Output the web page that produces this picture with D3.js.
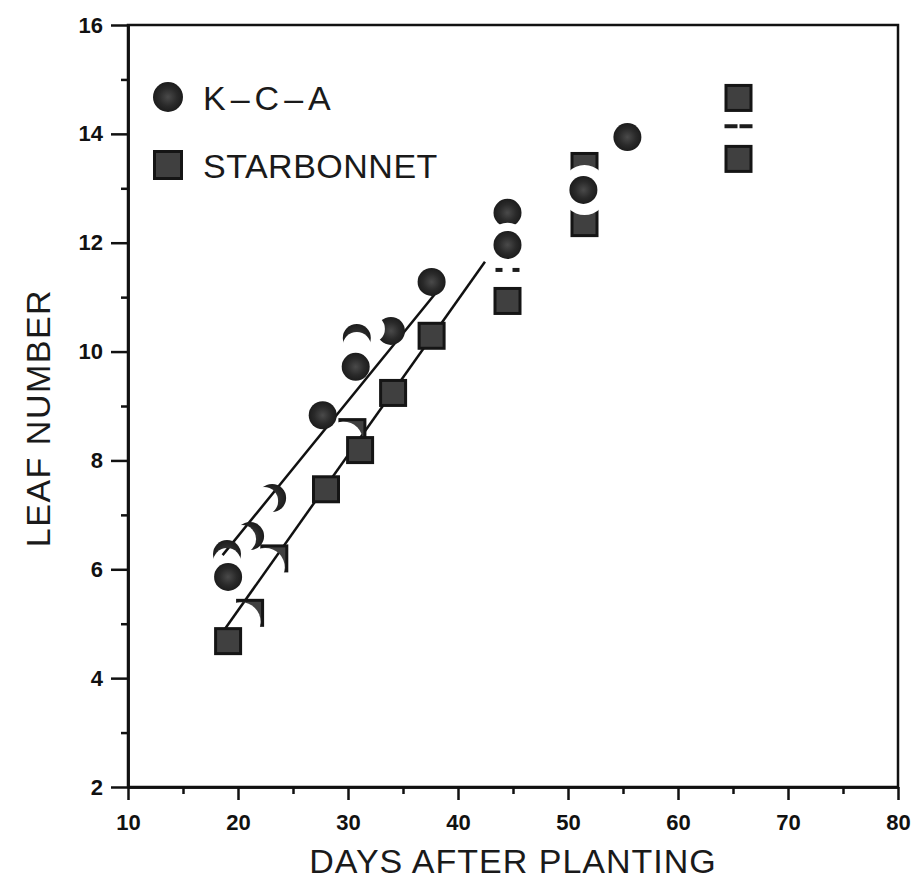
<!DOCTYPE html>
<html>
<head>
<meta charset="utf-8">
<script src="https://cdn.jsdelivr.net/npm/d3@7/dist/d3.min.js"></script>
<style>
  body { margin: 0; background: #fff; }
  svg { display: block; }
  .tick text { font-family: "Liberation Sans", Arial, sans-serif; font-weight: bold; font-size: 22px; fill: #111; }
  .title { font-family: "Liberation Sans", Arial, sans-serif; font-size: 34px; fill: #1a1a1a; }
</style>
</head>
<body>
<div id="chart"></div>
<script>
// K-C-A (circles)
var kcaDays   = [19.1, 19.0, 21.1, 23.1, 27.7, 30.7, 30.8, 33.9, 37.6, 44.5, 44.5, 51.4, 55.4];
var kcaLeaves = [5.86, 6.28, 6.61, 7.31, 8.83, 9.72, 10.25, 10.38, 11.28, 12.55, 11.96, 12.97, 13.94];
var kcaShapes = ["full", "cap", "crescent", "crescent", "full", "full", "cap", "notch", "full", "dome", "full", "full", "full"];

// STARBONNET (squares)
var sbDays   = [19.1, 21.1, 23.3, 28.0, 30.4, 31.1, 34.1, 37.6, 44.5, 44.5, 51.5, 51.5, 65.5, 65.5, 65.5];
var sbLeaves = [4.68, 5.2, 6.2, 7.47, 8.52, 8.19, 9.24, 10.29, 11.5, 10.93, 13.41, 12.36, 14.66, 14.14, 13.54];
var sbShapes = ["full", "rim", "rim", "full", "rim", "full", "full", "full", "split", "full", "top", "bottom", "full", "dash", "full"];

// fitted lines (end points)
var kcaFit = [[18.6, 6.26], [38.0, 11.08]];
var sbFit  = [[18.55, 4.83], [42.45, 11.65]];

var xTicks = [10, 20, 30, 40, 50, 60, 70, 80];
var xMinor = [15, 25, 35, 45, 55, 65, 75];
var yTicks = [2, 4, 6, 8, 10, 12, 14, 16];
var yMinor = [3, 5, 7, 9, 11, 13, 15];

var width = 921, height = 880;

var svg = d3.select("#chart").append("svg")
  .attr("width", width)
  .attr("height", height);

var x = d3.scaleLinear().domain([10, 80]).range([128, 898]);
var y = d3.scaleLinear().domain([2, 16]).range([787, 25]);

var R = 14, S = 28;

// cut-outs that give the worn print its partial marks
var cuts = {
  cap:      {cx: 0,   cy: 8,   r: 14},
  crescent: {cx: -8,  cy: 3,   r: 14},
  notch:    {cx: -20, cy: -2,  r: 14},
  dome:     {cx: 0,   cy: 31,  r: 21},
  rim:      {cx: -9,  cy: 9,   r: 19.5},
  top:      {cx: 0,   cy: 21,  r: 22},
  bottom:   {cx: 0,   cy: -30, r: 22}
};

var defs = svg.append("defs");
Object.keys(cuts).forEach(function(k) {
  var c = cuts[k];
  var m = defs.append("mask").attr("id", "cut-" + k)
    .attr("maskUnits", "userSpaceOnUse")
    .attr("x", -40).attr("y", -40).attr("width", 80).attr("height", 80);
  m.append("rect").attr("x", -40).attr("y", -40).attr("width", 80).attr("height", 80).attr("fill", "#fff");
  m.append("circle").attr("cx", c.cx).attr("cy", c.cy).attr("r", c.r).attr("fill", "#000");
});

var grad = defs.append("radialGradient").attr("id", "dot");
grad.append("stop").attr("offset", "0%").attr("stop-color", "#4a4a4a");
grad.append("stop").attr("offset", "60%").attr("stop-color", "#2a2a2a");
grad.append("stop").attr("offset", "100%").attr("stop-color", "#1c1c1c");

function drawMark(g, kind, shape, size) {
  if (shape == "dash") {
    g.append("rect").attr("x", -14).attr("y", -2).attr("width", 13).attr("height", 4).attr("fill", "#1c1c1c");
    g.append("rect").attr("x", 1).attr("y", -2).attr("width", 13).attr("height", 4).attr("fill", "#1c1c1c");
    return;
  }
  if (shape == "split") {
    g.append("rect").attr("x", -12).attr("y", -2).attr("width", 7).attr("height", 4).attr("fill", "#1c1c1c");
    g.append("rect").attr("x", 5).attr("y", -2).attr("width", 7).attr("height", 4).attr("fill", "#1c1c1c");
    return;
  }
  var el;
  if (kind == "circle") {
    el = g.append("circle").attr("r", size || R).attr("fill", "url(#dot)");
  } else {
    var s = size || S;
    el = g.append("rect")
      .attr("x", -s / 2 + 1.5).attr("y", -s / 2 + 1.5)
      .attr("width", s - 3).attr("height", s - 3)
      .attr("fill", "#404040")
      .attr("stroke", "#151515")
      .attr("stroke-width", 3);
  }
  if (shape != "full") el.attr("mask", "url(#cut-" + shape + ")");
}

// frame
svg.append("rect")
  .attr("x", x(10)).attr("y", y(16))
  .attr("width", x(80) - x(10)).attr("height", y(2) - y(16))
  .attr("fill", "none").attr("stroke", "#111").attr("stroke-width", 2.5);

// axes
svg.append("g")
  .attr("transform", "translate(0," + y(2) + ")")
  .call(d3.axisBottom(x).tickValues(xTicks).tickSize(13).tickSizeOuter(0).tickPadding(14));
svg.append("g")
  .attr("transform", "translate(0," + y(2) + ")")
  .call(d3.axisBottom(x).tickValues(xMinor).tickSize(7).tickSizeOuter(0).tickFormat(""));

svg.append("g")
  .attr("transform", "translate(" + x(10) + ",0)")
  .call(d3.axisLeft(y).tickValues(yTicks).tickSize(17).tickSizeOuter(0).tickPadding(8));
svg.append("g")
  .attr("transform", "translate(" + x(10) + ",0)")
  .call(d3.axisLeft(y).tickValues(yMinor).tickSize(7).tickSizeOuter(0).tickFormat(""));

svg.selectAll(".domain").attr("stroke", "#111").attr("stroke-width", 2.5);
svg.selectAll(".tick line").attr("stroke", "#111").attr("stroke-width", 2.5);
svg.selectAll(".tick text").attr("font-family", null).attr("font-size", null);

// titles
svg.append("text")
  .attr("class", "title")
  .attr("x", (x(10) + x(80)) / 2)
  .attr("y", 873)
  .attr("text-anchor", "middle")
  .attr("letter-spacing", 1)
  .text("DAYS AFTER PLANTING");

svg.append("text")
  .attr("class", "title")
  .attr("transform", "translate(50,418) rotate(-90)")
  .attr("text-anchor", "middle")
  .attr("letter-spacing", 1.5)
  .text("LEAF NUMBER");

// fitted lines
var line = d3.line().x(function(d) { return x(d[0]); }).y(function(d) { return y(d[1]); });
[kcaFit, sbFit].forEach(function(f) {
  svg.append("path").attr("d", line(f))
    .attr("fill", "none").attr("stroke", "#111").attr("stroke-width", 2.5);
});

// points
var kca = kcaDays.map(function(d, i) { return {day: d, leaf: kcaLeaves[i], shape: kcaShapes[i]}; });
var sb  = sbDays.map(function(d, i) { return {day: d, leaf: sbLeaves[i], shape: sbShapes[i]}; });

svg.append("g").selectAll("g")
  .data(sb)
  .enter().append("g")
  .attr("transform", function(d) { return "translate(" + x(d.day) + "," + y(d.leaf) + ")"; })
  .each(function(d) { drawMark(d3.select(this), "square", d.shape); });

svg.append("g").selectAll("g")
  .data(kca)
  .enter().append("g")
  .attr("transform", function(d) { return "translate(" + x(d.day) + "," + y(d.leaf) + ")"; })
  .each(function(d) { drawMark(d3.select(this), "circle", d.shape); });

// legend
var legend = [
  {label: "K\u2013C\u2013A", kind: "circle", y: 97, base: 110, size: 15},
  {label: "STARBONNET", kind: "square", y: 165, base: 178, size: 30}
];
legend.forEach(function(l) {
  var g = svg.append("g").attr("transform", "translate(168," + l.y + ")");
  drawMark(g, l.kind, "full", l.size);
  svg.append("text")
    .attr("class", "title")
    .attr("x", 203)
    .attr("y", l.base)
    .attr("letter-spacing", l.kind == "circle" ? 5 : 0.5)
    .text(l.label);
});
</script>
</body>
</html>
